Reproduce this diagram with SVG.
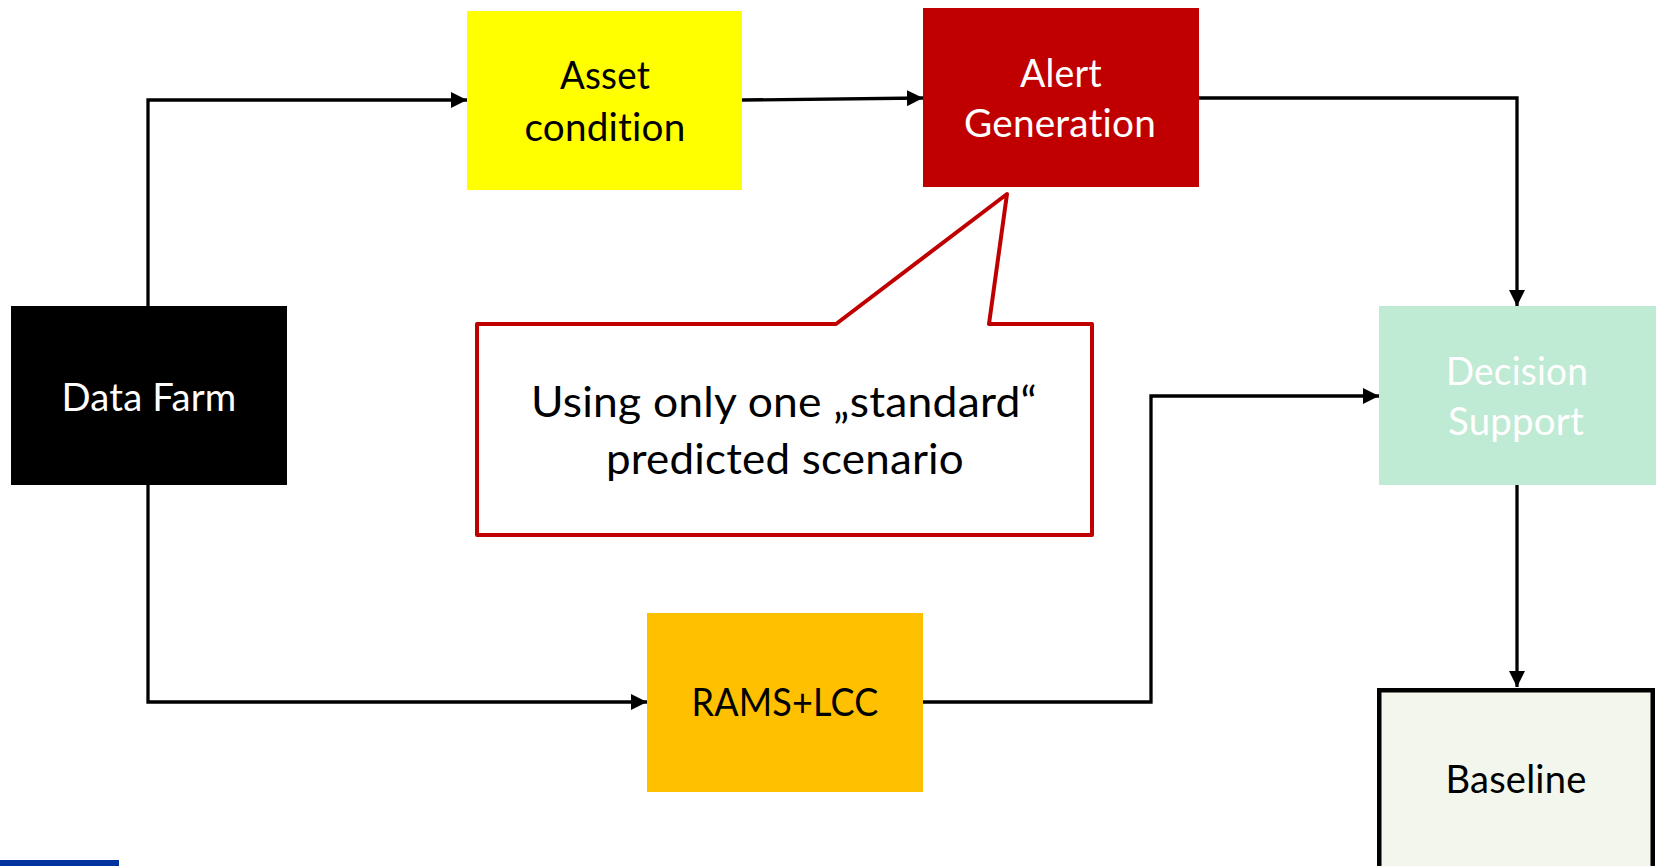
<svg xmlns="http://www.w3.org/2000/svg" width="1656" height="866" viewBox="0 0 1656 866">
<style>
.lbl{font-family:Lato,"Open Sans","Liberation Sans",sans-serif;font-size:38px;text-anchor:middle;font-variant-ligatures:none;font-feature-settings:"liga" 0,"clig" 0,"dlig" 0;letter-spacing:0.2px}
.big{font-family:Lato,"Open Sans","Liberation Sans",sans-serif;font-size:42px;text-anchor:middle;fill:#000;font-variant-ligatures:none;font-feature-settings:"liga" 0,"clig" 0,"dlig" 0;letter-spacing:0.2px}
.conn{fill:none;stroke:#000;stroke-width:3.3;stroke-linejoin:miter}
</style>
<defs>
<marker id="arr" markerUnits="userSpaceOnUse" markerWidth="16" markerHeight="16" refX="16" refY="8" orient="auto">
<path d="M0,0 L16,8 L0,16 Z" fill="#000"/>
</marker>
</defs>
<rect width="1656" height="866" fill="#fff"/>

<g id="connectors">
<path class="conn" d="M148,306 V100 H467" marker-end="url(#arr)"/>
<path class="conn" d="M742,100 L923,98" marker-end="url(#arr)"/>
<path class="conn" d="M1199,98 H1517 V306" marker-end="url(#arr)"/>
<path class="conn" d="M148,485 V702 H647" marker-end="url(#arr)"/>
<path class="conn" d="M923,702 H1151 V396 H1379" marker-end="url(#arr)"/>
<path class="conn" d="M1517,485 V687" marker-end="url(#arr)"/>
</g>

<g id="data-farm">
<rect x="11" y="306" width="276" height="179" fill="#000"/>
<text class="lbl" x="149" y="411" fill="#fff" textLength="175" lengthAdjust="spacingAndGlyphs">Data Farm</text>
</g>

<g id="asset-condition">
<rect x="467" y="11" width="275" height="179" fill="#FFFF00"/>
<text class="lbl" x="605" y="89" fill="#000" textLength="90" lengthAdjust="spacingAndGlyphs">Asset</text>
<text class="lbl" x="605" y="141" fill="#000" textLength="161" lengthAdjust="spacingAndGlyphs">condition</text>
</g>

<g id="alert-generation">
<rect x="923" y="8" width="276" height="179" fill="#C00000"/>
<text class="lbl" x="1061" y="87" fill="#fff" textLength="82" lengthAdjust="spacingAndGlyphs">Alert</text>
<text class="lbl" x="1060" y="137" fill="#fff" textLength="192" lengthAdjust="spacingAndGlyphs">Generation</text>
</g>

<g id="decision-support">
<rect x="1379" y="306" width="277" height="179" fill="#BFEAD3"/>
<text class="lbl" x="1517" y="385" fill="#fff" textLength="142" lengthAdjust="spacingAndGlyphs">Decision</text>
<text class="lbl" x="1516" y="435" fill="#fff" textLength="136" lengthAdjust="spacingAndGlyphs">Support</text>
</g>

<g id="rams-lcc">
<rect x="647" y="613" width="276" height="179" fill="#FFC000"/>
<text class="lbl" x="785" y="716" fill="#000" textLength="187" lengthAdjust="spacingAndGlyphs">RAMS+LCC</text>
</g>

<g id="baseline">
<rect x="1379.25" y="690.25" width="273.5" height="190" fill="#F2F6EC" stroke="#000" stroke-width="4.5"/>
<text class="lbl" x="1516" y="793" fill="#000" textLength="141" lengthAdjust="spacingAndGlyphs">Baseline</text>
</g>

<g id="callout">
<path d="M477,324 H836 L1007,194 L989,324 H1092 V535 H477 Z" fill="#fff" stroke="#C00000" stroke-width="4" stroke-linejoin="round"/>
<text class="big" x="784" y="417" textLength="506" lengthAdjust="spacingAndGlyphs">Using only one „standard“</text>
<text class="big" x="785" y="474" textLength="358" lengthAdjust="spacingAndGlyphs">predicted scenario</text>
</g>

<rect id="footer-bar" x="0" y="860" width="119" height="6" fill="#0033A0"/>
</svg>
